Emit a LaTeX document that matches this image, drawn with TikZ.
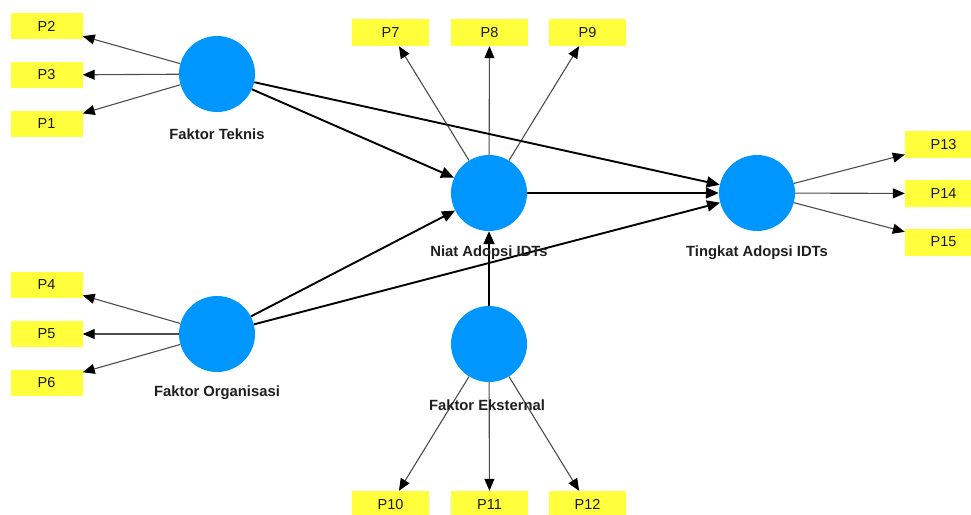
\documentclass[tikz,border=0pt]{standalone}
\usepackage{fontspec}
\setmainfont{Liberation Sans}
\usetikzlibrary{arrows.meta}
\definecolor{lvblue}{RGB}{0,150,255}
\definecolor{indyellow}{RGB}{255,255,60}
\begin{document}
\begin{tikzpicture}[x=1pt,y=-1pt,
 latent/.style={circle,fill=lvblue,minimum size=76pt,inner sep=0pt},
 ind/.style={fill=indyellow,minimum width=77pt,minimum height=27pt,inner sep=0pt,font=\fontsize{14.5}{16}\selectfont,text=black!90},
 indl/.style={ind,minimum width=72pt,minimum height=26pt},
 lab/.style={font=\fontsize{14.8}{17}\selectfont\bfseries,text=black!88,inner sep=1pt},
 meas/.style={-{Triangle[length=12pt,width=10pt,color=black]},draw=black!70,line width=1.1pt},
 struct/.style={-{Triangle[length=13pt,width=11pt,color=black]},draw=black,line width=1.9pt}]
\useasboundingbox (0,0) rectangle (971,514);
% indicators
\node[indl] (P2) at (46.5,26) {P2};
\node[indl] (P3) at (46.5,75) {P3};
\node[indl] (P1) at (46.5,124) {P1};
\node[indl] (P4) at (46.5,285) {P4};
\node[indl] (P5) at (46.5,334) {P5};
\node[indl] (P6) at (46.5,382.5) {P6};
\node[ind] (P7) at (390.5,32.5) {P7};
\node[ind] (P8) at (489.5,32.5) {P8};
\node[ind] (P9) at (587.5,32.5) {P9};
\node[ind] (P10) at (390.5,504.5) {P10};
\node[ind] (P11) at (489.5,504.5) {P11};
\node[ind] (P12) at (587.5,504.5) {P12};
\node[ind] (P13) at (943.5,144.5) {P13};
\node[ind] (P14) at (943.5,193.5) {P14};
\node[ind] (P15) at (943.5,242) {P15};
% latent variables
\node[latent] (FT) at (217,74) {};
\node[latent] (FO) at (217,334) {};
\node[latent] (NA) at (489,193) {};
\node[latent] (TA) at (757,193) {};
\node[latent] (FE) at (489,344) {};
% measurement arrows
\foreach \p in {P2,P3,P1} \draw[meas] (FT) -- (\p);
\foreach \p in {P4,P5,P6} \draw[meas] (FO) -- (\p);
\foreach \p in {P7,P8,P9} \draw[meas] (NA) -- (\p);
\foreach \p in {P10,P11,P12} \draw[meas] (FE) -- (\p);
\foreach \p in {P13,P14,P15} \draw[meas] (TA) -- (\p);
% structural arrows
\draw[struct] (FT) -- (NA);
\draw[struct] (FT) -- (TA);
\draw[struct] (FO) -- (NA);
\draw[struct] (FO) -- (TA);
\draw[struct] (NA) -- (TA);
\draw[struct] (FE) -- (NA);
% labels
\node[lab] (lFT) at (217,134) {Faktor Teknis};
\node[lab] (lFO) at (217,393) {Faktor Organisasi};
\node[lab] (lNA) at (489,253) {Niat Adopsi IDTs};
\node[lab] (lTA) at (757,253) {Tingkat Adopsi IDTs};
\node[lab] (lFE) at (487,405) {Faktor Eksternal};
\end{tikzpicture}
\end{document}
